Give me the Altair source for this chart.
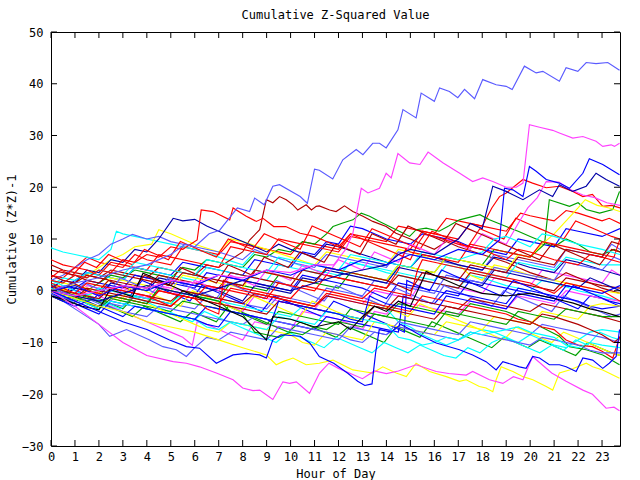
import altair as alt
import pandas as pd

RED = "#ff0000"; GREEN = "#00a000"; BLUE = "#0000ff"; MAG = "#ff40ff"; CYAN = "#00ffff"
DRED = "#b00000"; YEL = "#ffff00"; BLK = "#000000"; SLATE = "#5a5aff"; NAVY = "#0000a8"

TITLE = "Cumulative Z-Squared Value"
X_TITLE = "Hour of Day"
Y_TITLE = "Cumulative (Z*Z)-1"
HOUR_TICKS = list(range(0, 24))
Y_TICKS = [-30, -20, -10, 0, 10, 20, 30, 40, 50]

# (hour, cumulative value) pairs
TOP_SLATE = [(0,0),(1,1.5),(2,2.5),(3,4),(4,5),(5,7),(5.6,9),(6,8.5),(6.6,11),(7.04,11.7),(7.78,16),(8.29,15.3),(8.5,17.9),(8.9,16.6),(9.26,20.2),(9.54,20.5),(10.4,18.2),(10.7,16.9),(11.0,23.5),(11.2,23.3),(11.76,21.6),(12.18,25.3),(12.74,27.3),(13.02,26.3),(13.43,28.5),(13.71,28.5),(13.99,27.6),(14.48,31.1),(14.69,35.0),(15.24,33.4),(15.45,38.2),(16.0,36.6),(16.22,39.2),(16.63,38.5),(16.98,37.3),(17.26,38.9),(17.68,37.1),(18.02,40.8),(18.58,39.8),(19.0,39.5),(19.25,38.9),(19.76,43.4),(20.25,42.1),(20.53,42.4),(21.22,40.5),(21.5,43.1),(21.99,42.4),(22.34,44.1),(22.75,43.9),(23.24,44.1),(23.73,42.6)]
TOP_MAG = [(0,0),(1,-1),(2,0),(3,1),(4,0.5),(5,2),(6,1.5),(7,3),(8,2.5),(9,4),(10,3.5),(11,5),(11.8,5),(12.3,8),(12.6,11.1),(12.95,19.8),(13.23,18.9),(13.71,19.8),(13.99,22.7),(14.2,21.8),(14.48,26.5),(14.97,24.7),(15.4,24.4),(15.74,26.8),(16.37,24.7),(17.06,22.7),(17.6,21.1),(18.02,21.8),(18.44,21.1),(19.0,20.0),(19.42,20.0),(19.7,20.8),(19.97,32.1),(20.39,31.6),(20.94,31.0),(21.22,30.5),(21.78,29.5),(22.2,29.8),(22.75,28.9),(23.03,27.9),(23.38,28.2),(23.52,27.9),(23.73,28.5)]
BLUE_HI = [(0,0),(1,1),(2,-1),(3,1),(4,0),(5,2),(6,1),(7,3),(8,2),(9,4),(10,3),(11,5),(12,4),(13,6),(14,5),(15,7),(16,6),(17,8),(18,7),(18.72,9.8),(18.93,19.8),(19.28,19.5),(19.7,18.2),(19.97,24.0),(20.25,23.1),(20.67,21.5),(21.22,20.8),(21.64,19.8),(22.2,22.7),(22.47,25.5),(23.03,24.4),(23.73,22.4)]
NAVY_HI = [(0,0),(1,-1),(2,-2),(3,-0.5),(4,1),(5,0),(6,-1),(7,0.5),(8,2),(9,1),(10,0),(11,1.5),(12,3),(13,4),(14,5),(14.5,7),(15,8),(16,7),(17,10),(17.5,13),(18,12),(18.44,20.2),(19.0,19.2),(19.7,17.6),(20.39,19.5),(20.94,18.2),(21.22,20.5),(21.78,19.2),(22.34,20.2),(22.75,22.7),(23.17,21.5),(23.73,20.2)]
MAG_LOW = [(0,0),(1,-3),(2,-6.5),(3,-10),(4,-12.5),(5.1,-13.7),(5.65,-14),(6.2,-14.7),(6.9,-15.9),(7.6,-17.2),(8.0,-18.8),(8.43,-19.3),(8.71,-19.2),(9.26,-21.0),(9.68,-17.6),(9.96,-17.9),(10.24,-17.6),(10.79,-19.8),(11.21,-15.9),(11.6,-14),(12,-15),(12.5,-16),(13,-17),(13.5,-15.5),(14,-16),(14.5,-15.5),(15.24,-14.3),(16.08,-15.6),(16.6,-16),(17.33,-16.3),(17.6,-15.6),(18.3,-17.2),(18.86,-17.9),(19.3,-16.6),(19.7,-17.2),(20.1,-12.7),(20.9,-15.9),(21.5,-17.5),(22.2,-19.2),(22.6,-20),(23.17,-22.7),(23.5,-22.5),(23.73,-23.2)]
YEL_LOW = [(0,0),(1,-1.5),(2,-3),(3,-4),(4,-6),(5,-7),(6,-8),(7,-9.5),(8,-11),(8.99,-12.4),(9.4,-14.3),(9.68,-13.7),(10.1,-13.0),(10.65,-14.3),(11.2,-14.0),(11.77,-13.4),(12.6,-15.3),(13.02,-15.6),(13.43,-15.9),(13.85,-14.7),(14.41,-15.9),(14.83,-16.6),(15.24,-14.0),(15.8,-15.6),(16.5,-16.6),(17.05,-17.5),(17.33,-17.2),(17.88,-18.5),(18.16,-18.8),(18.44,-19.5),(18.58,-17.2),(18.79,-14.7),(19.28,-15.6),(19.7,-16.6),(20.11,-17.2),(20.67,-18.5),(20.94,-19.2),(21.22,-15.9),(21.64,-15.3),(22.34,-14.0),(22.61,-14.7),(23.03,-15.3),(23.73,-16.9)]
BLUE_LOW = [(0,0),(1,-2),(2,-4),(3,-6),(4,-7.5),(4.95,-9.5),(5.65,-10.8),(6.2,-11.1),(6.9,-14.0),(7.6,-12.4),(8.15,-12.1),(8.71,-12.4),(8.99,-13.0),(9.26,-9.5),(9.6,-8.5),(10.4,-8.8),(10.8,-10.1),(11.2,-12.7),(11.8,-14),(12.4,-16),(12.8,-17.5),(13.1,-18.3),(13.4,-18.0),(13.55,-12),(13.7,-7.5),(14.2,-8),(14.6,-6.5),(15.0,-7.5),(15.38,-8.5),(16.08,-10.1),(17.05,-11.4),(17.6,-12.4),(18.16,-13.7),(18.58,-15.3),(18.86,-13.7),(19.28,-14.3),(19.55,-14.7),(19.83,-15.0),(20.11,-12.7),(20.39,-13.0),(20.8,-14.3),(21.22,-14.3),(21.5,-14.7),(21.92,-15.6),(22.2,-13.0),(22.61,-13.4),(23.03,-15.0),(23.3,-14.0),(23.59,-12.7),(23.73,-7.5)]
BLACK_1 = [(0,-1),(0.6,-1.8),(1.3,-3),(2.0,-3.7),(2.45,0.2),(2.9,-0.4),(3.4,-1.1),(3.84,3.4),(4.0,3.1),(5,1),(6,-1),(7,-3),(8,-5),(8.99,-9.5),(9.26,-5),(10,-5.5),(11,-7),(12,-6),(12.5,-7.5),(13,-5),(13.5,-3),(14,-4),(14.5,-2),(15,-3),(15.5,2),(15.66,3.7),(16,3),(17,1),(18,-0.5),(19,-1),(20,-0.5),(21,-1.5),(21.8,-2.4),(22.5,-3.5),(23,-4),(23.73,-5)]
RED_A = [(0,2),(0.5,1.5),(1,3),(1.5,2.5),(2,4),(2.5,3.5),(3,6),(3.5,5.5),(4,7),(4.5,6.5),(5,8.5),(5.5,8),(6.1,9.8),(6.27,15.6),(6.76,15.3),(7.46,13.7),(7.6,16),(8.15,14.4),(8.57,13.4),(8.85,14),(9.3,12.4),(9.8,12.4),(10.4,11.1),(11,10.5),(11.5,9.5),(12,8.5),(12.5,11),(13,10),(13.5,9),(14,8),(14.5,7),(15,6),(15.3,9),(15.6,11),(16,10.5),(17,9),(18,8),(18.5,7),(19,6),(19.5,8),(20,7.5),(21,6),(22,5),(22.5,7),(23,6.5),(23.75,5.5)]
DRED_A = [(0,5),(0.5,4),(1,3.5),(2,2.5),(2.5,4),(3,3.5),(4,2.5),(4.5,4.5),(5,4),(6,3),(6.5,5),(7,4.5),(7.5,6),(8,7.5),(8.29,9.8),(8.71,11.8),(8.99,17.6),(9.26,17),(9.54,18.2),(9.82,17.6),(10.1,16.6),(10.3,15.6),(10.65,16.6),(10.87,15.6),(11.07,16.3),(11.2,16.4),(11.63,15.6),(11.9,15.3),(12.25,16.4),(12.6,15.3),(13.02,14.4),(13.43,13.4),(13.99,12.4),(14.4,11.1),(15,10),(15.5,9),(16,8),(16.5,9.5),(17,8.5),(18,7),(19,5.5),(19.5,4.5),(20,3.5),(21,2),(21.5,3.5),(22,2.5),(23,0.5),(23.75,-0.5)]
GREEN_A = [(0,0),(0.5,-1),(1,0.5),(1.5,0),(2,1.5),(2.5,3),(3,2.5),(3.5,4),(4,3.5),(5,2.5),(5.5,4.5),(6,4),(6.5,6),(7,5.5),(8,4.5),(8.5,7),(9,6.5),(9.5,8),(10,7.5),(10.5,9.5),(11,9),(11.5,11),(11.77,12.4),(12.18,13.1),(12.6,13.7),(12.95,15),(13.3,14.4),(13.71,13.4),(14.41,11.8),(14.97,10.5),(15.24,11.8),(15.66,12.1),(16.2,11.5),(16.6,12.5),(17.05,13.7),(17.9,14.7),(18.3,13.7),(19,12.4),(19.5,11.5),(20,10.5),(20.5,9.5),(21,8.5),(21.5,10),(22,9),(22.5,7.5),(23,7),(23.5,8),(23.75,7.5)]
RED_B = [(0,6),(0.5,5),(1,4.5),(1.5,6.5),(2,5.5),(3,4.5),(3.5,7),(4,6),(5,5),(5.5,8.5),(6,8),(7,7),(7.5,9.5),(8,9),(9,8),(10,7),(10.5,9.5),(11,9),(12,8),(12.5,11),(13,10.5),(14,9.5),(14.5,12.5),(15,12),(16,11),(16.5,14),(17,13.5),(18,12.5),(18.4,16),(18.72,18.2),(19,18.9),(19.7,21.5),(20.1,20.8),(20.67,19.9),(21.22,20.2),(21.78,19.2),(22.2,18.2),(22.6,18.6),(23.03,16.3),(23.4,16.5),(23.75,16)]
NAVY_B = [(0,0.5),(0.5,2),(1,1.5),(1.5,4),(2,3.5),(2.5,6),(3,5.5),(3.5,8),(4,7.5),(4.5,10),(5.1,14),(5.5,13.5),(6,13.8),(6.5,12.5),(7,11.5),(7.5,10.5),(8,9.5),(8.5,8.5),(9,7.5),(9.5,9),(10,8),(11,6.5),(11.5,9),(12,8.5),(13,7),(14,5.5),(15,4.5),(15.5,7),(16,6.5),(17,5),(18,4),(18.5,6.5),(19,6),(20,4.5),(21,3.5),(21.5,6),(22,5.5),(23,4),(23.75,3)]
YEL_B = [(0,1),(0.5,0),(1,1.5),(1.5,3),(2,4.5),(2.5,6),(3,7),(3.5,8.5),(4.2,9),(4.5,11.8),(5,11),(5.5,10),(6,9),(7,7.5),(7.5,10),(8,9.5),(9,8),(10,6.5),(11,5),(11.5,7.5),(12,7),(13,6),(14,5),(14.5,8),(15,7.5),(16,6),(17,5),(17.5,3),(18,2),(18.5,5),(19,4.5),(20,3),(21,2),(22,1),(23,0),(23.75,-0.5)]
CYAN_B = [(0,8.3),(0.5,7.5),(1,7),(1.5,6.5),(2,6),(2.5,8),(2.73,11.5),(3,11),(3.5,10.5),(4,10),(5,9),(6,8),(6.5,7.5),(7,6.5),(8,5),(8.5,7.5),(9,7),(10,5.5),(11,4),(12,3),(12.5,5.5),(13,5),(14,3.5),(15,2.5),(16,1.5),(17,0.5),(17.5,3),(18,2.5),(19,1),(20,0),(20.5,2),(21,1.5),(22,0),(23,-1),(23.75,-2)]
SLATE_B = [(0,2),(0.5,3),(1,4.5),(1.5,6),(2,7),(2.5,9),(3,10),(3.4,10.9),(4,10),(4.5,10.5),(5,9.5),(6,8.5),(7,7.5),(8,6),(8.5,8),(9,7),(10,5.5),(11,4.5),(11.5,7),(12,6.5),(13,5.5),(14,4.5),(14.5,7.5),(15,7),(16,6),(17,5),(18,4),(18.5,7),(19,6.5),(20,5.5),(21,4.5),(21.5,8),(22,7.5),(23,6.5),(23.4,9),(23.75,8)]
RED_C = [(0,3),(0.5,2.5),(1,4.5),(1.5,4),(2,3),(2.5,5.5),(3,5),(4,4),(4.5,7),(5,6.5),(6,5.5),(7,4.5),(7.5,8.5),(8,8),(9,7),(9.5,10),(10,9.5),(11,8.5),(12,7.5),(12.5,10.5),(13,10),(14,9),(15,8),(15.5,11.5),(16,11),(17,10),(17.5,13),(18,12.5),(19,11.5),(19.6,15),(20,14.5),(21,13.5),(21.5,15.5),(22,15),(23,13.5),(23.3,14),(23.75,13)]
GREEN_B = [(0,1),(0.5,0),(1,-1),(1.5,-2),(2,-1.5),(2.5,-2.5),(3,-3.5),(3.5,-1),(4,-1.5),(5,-2.5),(5.5,0),(6,-0.5),(7,-1.5),(7.5,1.5),(8,1),(9,0),(9.5,3),(10,2.5),(11,1.5),(12,0.5),(12.5,3.5),(13,3),(14,2),(14.5,5),(15,4.5),(16,3.5),(16.5,6.5),(17,6),(18,5),(18.5,8),(19,7.5),(20,6.5),(20.6,9),(20.8,17.6),(21.64,16.3),(22.0,17),(22.34,15.7),(22.9,15),(23.45,15.7),(23.73,19.2)]
RED_D = [(0,-1),(0.5,-2),(1,-1),(1.5,-2.5),(2,-3),(2.5,-1),(3,-1.5),(4,-2.5),(4.5,0),(5,-0.5),(6,-1.5),(6.5,1),(7,0.5),(8,-0.5),(9,-1.5),(9.5,1.5),(10,1),(11,0),(11.5,3),(12,2.5),(13,1.5),(14,0.5),(14.5,4),(14.8,8),(15,7.5),(16,6.5),(17,5.5),(17.5,9),(18,8.5),(19,7.5),(20,6.5),(20.5,9.5),(21,9),(22,8),(23,7),(23.5,6.5),(23.75,10)]
SLATE_C = [(0,0),(0.5,-1),(1,-2),(1.5,-1),(2,-2),(3,-3),(3.5,-1),(4,-1.5),(5,-2.5),(6,-3.5),(6.5,-1),(7,-1.5),(8,-2.5),(9,-3.5),(9.5,-1),(10,-1.5),(11,-2.5),(11.5,0.5),(12,0),(13,-1),(13.5,2),(14,1.5),(15,0.5),(16,-0.5),(16.5,3),(17,2.5),(18,1.5),(18.5,4.5),(19,4),(20,3),(21,2),(21.5,5.5),(22,5),(23,4),(23.5,6.5),(23.75,6)]
CYAN_C = [(0,1),(0.5,2.5),(1,2),(1.5,3.5),(2,3),(3,2),(3.5,4.5),(4,4),(5,3),(6,2),(6.5,4.5),(7,4),(8,3),(9,2),(9.5,5),(10,4.5),(11,3.5),(12,2.5),(12.5,5.5),(13,5),(14,4),(15,3),(16,2),(16.5,5),(17,4.5),(18,3.5),(19,2.5),(19.5,5.5),(20,5),(21,4),(21.5,6.5),(22,6),(23,5),(23.75,5)]
DRED_B = [(0,3),(0.5,2),(1,1.5),(1.5,3),(2,2.5),(3,1.5),(4,0.5),(4.5,3),(5,2.5),(6,1.5),(7,0.5),(7.5,3.5),(8,3),(9,2),(10,1),(10.5,4),(11,3.5),(12,2.5),(13,1.5),(14,0.5),(14.5,3),(15,2.5),(16,1.5),(17,0.5),(17.5,3.5),(18,3),(19,2),(20,1),(21,0),(21.5,2.5),(22,2),(23,1),(23.75,0.5)]
YEL_C = [(0,0),(0.5,1.5),(1,1),(2,0),(2.5,2.5),(3,2),(4,1),(5,0),(5.5,3),(6,2.5),(7,1.5),(8,0.5),(8.5,4),(9,3.5),(10,2.5),(11,1.5),(11.5,4.5),(12,4),(13,3),(14,2),(14.5,5),(15,4.5),(16,3.5),(16.5,6.5),(17,6),(18,5),(19,4),(19.5,7),(20,6.5),(20.5,9),(21,11),(21.5,13.5),(22,16),(22.3,17.6),(22.8,16.5),(23.3,16),(23.75,15.3)]
MAG_B = [(0,0.5),(0.5,0),(1,-1),(1.5,1),(2,0.5),(3,-0.5),(4,-1.5),(4.5,1),(5,0.5),(6,-0.5),(7,-1.5),(7.5,-3),(8,-4),(8.5,-1),(9,-1.5),(10,-2.5),(11,-3.5),(11.5,-1),(12,-1.5),(13,-2.5),(13.5,0),(14,-0.5),(15,-1.5),(15.5,2),(16,1.5),(17,0.5),(18,-0.5),(18.5,2.5),(19,2),(20,1),(20.5,4),(21,3.5),(22,2.5),(23,1.5),(23.4,4),(23.75,3)]
BLUE_B = [(0,0),(0.5,1),(1,0.5),(1.5,2),(2,1.5),(3,0.5),(3.5,3),(4,2.5),(5,1.5),(6,0.5),(6.5,3.5),(7,3),(8,2),(9,1),(10,0),(10.5,3),(11,2.5),(12,1.5),(13,0.5),(13.5,-0.5),(14,-1.5),(14.5,1.5),(15,1),(16,0),(17,-1),(17.5,2),(18,1.5),(19,0.5),(20,-0.5),(21,-1.5),(21.5,-2.5),(22,-3.5),(22.5,-1),(23,-1.5),(23.75,-3)]
RED_E = [(0,0.5),(0.5,-0.5),(1,-1.5),(1.5,0),(2,-0.5),(3,-1.5),(4,-2.5),(4.5,0),(5,-0.5),(6,-1.5),(7,-2.5),(7.5,0.5),(8,0),(9,-1),(10,-2),(11,-3),(11.5,-0.5),(12,-1),(13,-2),(14,-3),(15,-4),(15.5,-1),(16,-1.5),(17,-2.5),(18,-3.5),(19,-4.5),(19.5,-5.5),(20,-6),(20.5,-7),(21,-7.5),(21.5,-9.5),(22,-10.5),(22.6,-10.8),(23,-11.7),(23.45,-13),(23.75,-8.8)]
GREEN_C = [(0,-0.5),(0.5,-1.5),(1,-1),(1.5,-2.5),(2,-3.5),(2.5,-1.5),(3,-2),(4,-3),(5,-4),(5.5,-2),(6,-2.5),(7,-3.5),(8,-4.5),(8.5,-5.5),(9,-6.5),(9.5,-4),(10,-4.5),(11,-5.5),(12,-6.5),(12.5,-3.5),(13,-4),(14,-5),(14.5,-2.5),(15,-3),(16,-4),(17,-5),(17.5,-2.5),(18,-3),(19,-4),(19.5,-5),(20.1,-6.2),(20.67,-7.5),(21.22,-8.8),(21.64,-10.8),(22.34,-11.4),(23.03,-12.4),(23.73,-14.3)]
CYAN_D = [(0,2),(0.5,1),(1,0),(1.5,-1),(2,0.5),(3,-0.5),(4,-1.5),(5,-2.5),(5.5,-0.5),(6,-1),(7,-2),(8,-3),(9,-4),(10,-5),(10.5,-3),(11,-3.5),(12,-4.5),(13,-5.5),(13.5,-3),(14,-3.5),(14.5,-6),(15,-7),(15.5,-8.5),(16,-9.5),(16.5,-10.5),(17,-9.5),(17.5,-8.5),(18,-7.5),(18.5,-8),(19,-9),(19.5,-10),(20,-8.5),(20.5,-9.5),(21,-10.5),(21.5,-11),(22,-9.5),(22.5,-8),(23,-7.5),(23.75,-8)]
DRED_C = [(0,1),(0.5,0),(1,-0.5),(2,-1.5),(2.5,0.5),(3,0),(4,-1),(5,-2),(5.5,0),(6,-0.5),(7,-1.5),(8,-2.5),(8.5,-0.5),(9,-1),(10,-2),(11,-3),(11.5,-1),(12,-1.5),(13,-2.5),(14,-3.5),(14.5,-1),(15,-1.5),(16,-2.5),(17,-3.5),(17.5,-1.5),(18,-2),(19,-3),(20,-4),(20.5,-2.5),(21,-3),(22,-4),(23,-5),(23.75,-6)]
BLUE_C = [(0,-0.5),(0.5,-1.5),(1,-2.5),(1.5,-3.5),(2,-4.5),(2.5,-2),(3,-2.5),(4,-3.5),(5,-4.5),(6,-5.5),(6.5,-3),(7,-3.5),(8,-4.5),(9,-5.5),(10,-6.5),(11,-7.5),(11.5,-5),(12,-5.5),(13,-6.5),(14,-7.5),(14.5,-8),(14.7,-1),(15,-1.5),(16,-2.5),(16.5,0),(17,-0.5),(18,-1.5),(19,-2.5),(19.5,0.5),(20,0),(21,-1),(22,-2),(22.5,-3),(23,-3.5),(23.75,-3)]
SLATE_D = [(0,-0.5),(0.5,-2),(1,-3.5),(1.5,-5),(2,-6.5),(2.45,-8.8),(3.15,-7.5),(4.12,-9.5),(4.67,-10.8),(5.23,-11.4),(5.65,-12.7),(6,-11),(6.5,-9),(7,-9.5),(7.5,-8),(8,-8.5),(9,-9.5),(9.5,-7),(10,-7.5),(11,-8.5),(12,-9.5),(12.5,-7),(13,-7.5),(14,-8.5),(14.5,-6),(15,-6.5),(16,-7.5),(17,-8.5),(17.5,-6),(18,-6.5),(19,-7.5),(20,-8.5),(20.5,-6.5),(21,-7),(22,-8),(23,-9),(23.75,-10)]
YEL_D = [(0,0),(0.5,-0.5),(1,-1.5),(1.5,0),(2,-0.5),(3,-1.5),(4,-2.5),(4.5,-3.5),(5,-4.5),(5.5,-5.5),(6,-6.5),(6.5,-7.5),(7,-8),(7.5,-6),(8,-6.5),(9,-7.5),(10,-8.5),(10.5,-10),(11,-10.5),(11.5,-8),(12,-8.5),(13,-9.5),(13.5,-6),(14,-6.5),(15,-7.5),(16,-8.5),(16.5,-6),(17,-6.5),(18,-7.5),(18.5,-5),(19,-5.5),(20,-6.5),(20.5,-4),(21,-4.5),(22,-5.5),(22.5,-3),(23,-2.5),(23.75,-3)]
MAG_C = [(0,0),(0.5,1),(1,0),(1.5,-1),(2,-2),(2.5,-3),(3,-4),(3.5,-5),(4,-6),(4.5,-7),(5,-8),(5.5,-9),(5.9,-10.5),(6.1,-6),(6.5,-6.5),(7,-7.5),(7.5,-8.5),(8,-9.5),(8.5,-6),(9,-6.5),(10,-7.5),(10.5,-4),(11,-4.5),(12,-5.5),(12.5,-6.5),(13,-7.5),(13.5,-4),(14,-4.5),(14.5,-2),(15,-2.5),(16,-3.5),(17,-4.5),(17.5,-2),(18,-2.5),(19,-3.5),(19.5,-1),(20,-1.5),(21,-2.5),(21.5,0),(22,-0.5),(23,-1.5),(23.75,-2)]
DRED_D = [(0,0.5),(0.5,-0.5),(1,-1.5),(1.5,0.5),(2,0),(3,-1),(4,-2),(5,-3),(5.5,-1),(6,-1.5),(7,-2.5),(8,-3.5),(9,-4.5),(9.5,-2),(10,-2.5),(11,-3.5),(12,-4.5),(13,-5.5),(13.5,-3),(14,-3.5),(15,-4.5),(16,-5.5),(16.5,-3),(17,-3.5),(18,-4.5),(19,-5.5),(20,-6.5),(20.5,-4.5),(21,-5),(22,-6.5),(22.5,-7.5),(23,-8.5),(23.5,-10),(23.75,-9)]
CYAN_E = [(0,2),(0.5,1.5),(1,3),(1.5,2.5),(2,4),(3,3),(3.5,5.5),(4,5),(5,4),(6,3),(6.5,6),(7,5.5),(8,4.5),(9,3.5),(9.5,6.5),(10,6),(11,5),(12,4),(12.5,7),(13,6.5),(14,5.5),(15,4.5),(15.5,7.5),(16,7),(17,6),(18,7.5),(18.5,10),(19,10.5),(19.5,9.5),(20,8.5),(20.5,11),(21,10.5),(22,9),(23,8),(23.75,7)]
NAVY_C = [(0,0),(0.5,-1),(1,0.5),(1.5,0),(2,-1),(2.5,1.5),(3,1),(4,0),(4.5,2.5),(5,2),(6,1),(7,0),(7.5,-1),(8,-2),(8.5,1),(9,0.5),(10,-0.5),(10.5,2.5),(11,2),(11.5,4),(12,3.5),(13,2.5),(14,1.5),(14.5,4.5),(15,4),(16,3),(17,2),(18,1),(18.5,4),(19,3.5),(20,2.5),(21,1.5),(22,0.5),(22.5,2.5),(23,1.5),(23.75,0)]
BLUE_D = [(0,1),(0.5,0.5),(1,2),(1.5,3.5),(2,3),(3,2),(3.5,4.5),(4,4),(5,3),(5.5,5.5),(6,5),(7,4),(8,3),(8.5,6),(9,5.5),(10,4.5),(10.5,7.5),(11,7),(11.5,9.5),(12,9),(12.5,12.5),(13,12),(13.5,11),(14,10),(15,9),(15.5,11),(16,10.5),(17,9.5),(17.5,8.5),(18,8),(19,7),(19.5,10),(20,9.5),(21,8.5),(21.5,12),(22,11.5),(23,10.5),(23.75,12)]
GREEN_D = [(0,-1),(0.5,-2),(1,-1.5),(2,-3),(2.5,-1),(3,-1.5),(4,-2.5),(4.5,0.5),(5,0),(6,-1),(7,-2),(7.5,-4),(8,-4.5),(8.5,-8),(9,-8.5),(9.5,-9),(10,-8),(10.5,-8.5),(11,-7),(11.5,-7.5),(12,-6),(13,-7),(13.5,-4.5),(14,-5),(15,-6),(16,-7),(16.5,-4),(17,-4.5),(18,-5.5),(19,-6.5),(19.5,-4),(20,-4.5),(21,-5.5),(21.5,-3.5),(22,-4),(23,-5),(23.75,-5)]
RED_F = [(0,1.5),(0.5,0.5),(1,-0.5),(1.5,1.5),(2,1),(3,0),(4,-1),(4.5,-2),(5,-3),(5.5,-1),(6,-1.5),(6.5,-3.5),(7,-4.5),(7.2,2),(7.5,1.5),(8,0.5),(9,-0.5),(10,-1.5),(10.5,1),(11,0.5),(12,-0.5),(13,-1.5),(13.5,0.5),(14,0),(15,-1),(15.3,4),(15.5,6),(16,5.5),(17,4.5),(18,3.5),(19,2.5),(20,1.5),(20.5,0.5),(21,-0.5),(21.5,1.5),(22,1),(23,0),(23.75,-2)]
SLATE_E = [(0,0),(0.5,-1),(1,-2.5),(1.5,-1.5),(2,-2.5),(3,-4),(4,-5),(4.5,-3),(5,-3.5),(6,-4.5),(7,-5.5),(8,-6.5),(8.5,-5),(9,-5.5),(10,-6.5),(11,-7.5),(12,-8.5),(12.5,-9.5),(13,-10),(13.5,-8),(14,-8.5),(14.5,-7),(15,-7.5),(16,-8.5),(17,-9.5),(17.5,-8),(18,-8.5),(19,-9.5),(20,-10.5),(20.5,-9),(21,-9.5),(22,-10.5),(22.5,-11.5),(23,-12),(23.75,-12)]
CYAN_F = [(0,0.5),(0.5,-0.5),(1,-1.5),(1.5,-2.5),(2,-3.5),(2.5,-2),(3,-2.5),(4,-3.5),(5,-4.5),(6,-5.5),(6.5,-7),(7,-7.5),(7.5,-6),(8,-6.5),(9,-7.5),(9.5,-5),(10,-5.5),(11,-6.5),(11.5,-4),(12,-4.5),(13,-5.5),(14,-6.5),(14.5,-9),(15,-9.5),(15.5,-10.5),(16,-10),(16.5,-9),(17,-9.5),(17.5,-8),(18,-8.5),(19,-7.5),(19.5,-7),(20,-8),(21,-9),(21.5,-10.5),(22,-11),(22.5,-10),(23,-10.5),(23.75,-11)]
DRED_E = [(0,4),(0.5,3.5),(1,3),(1.5,2),(2,1.5),(2.5,3.5),(3,3),(4,2),(5,1),(5.5,3.5),(6,3),(7,2),(8,1),(8.5,4),(9,3.5),(10,2.5),(11,1.5),(11.5,4.5),(12,4),(13,3),(14,2),(14.5,1),(15,0),(15.5,3.5),(16,3),(17,2),(17.5,5),(18,4.5),(19,3.5),(19.5,6.5),(20,6),(21,5),(21.5,8),(22,7.5),(23,6.5),(23.4,9.5),(23.75,9)]
BLUE_E = [(0,-1),(0.5,-2),(1,-3),(1.5,-2),(2,-3),(2.5,-4),(3,-5),(3.5,-3),(4,-3.5),(5,-4.5),(6,-5.5),(6.5,-6.5),(7,-7),(7.5,-4),(8,-4.5),(9,-5.5),(9.2,-6),(9.5,-2),(10,-2.5),(11,-3.5),(12,-4.5),(12.5,-5.5),(13,-6),(13.3,-1),(13.5,-1.5),(14,-2.5),(15,-3.5),(16,-4.5),(16.5,-1),(17,-1.5),(18,-2.5),(19,-3.5),(19.5,-0.5),(20,-1),(21,-2),(21.5,1),(22,0.5),(23,-0.5),(23.75,1)]
BLUE_F = [(0,-0.5),(0.3,-1.5),(0.8,0.5),(1.3,-0.5),(1.8,-1.5),(2.3,1),(2.8,0),(3.3,-1),(3.8,2),(4.3,1),(4.8,0),(5.3,-1),(5.8,-2),(6.3,1),(6.8,0),(7.3,-1),(7.8,-2),(8.3,-3),(8.8,-4),(9.3,-1),(9.8,-2),(10.3,-3),(10.8,-4),(11.3,-5),(11.8,-2),(12.3,-3),(12.8,-4),(13.3,-5),(13.8,-6),(14.3,-7),(14.75,-8),(14.85,2),(15.3,1),(15.8,0),(16.3,4),(16.8,3),(17.3,2),(17.8,1),(18.3,0),(18.8,-1),(19.3,2),(19.8,1),(20.3,0),(20.8,-1),(21.3,-2),(21.8,1),(22.3,0),(22.8,-1),(23.3,-2),(23.75,-2.5)]
RED_G = [(0,2.5),(0.4,4),(0.9,3),(1.4,5.5),(1.9,4.5),(2.4,7),(2.9,6),(3.4,5),(3.9,8),(4.4,7),(4.9,6),(5.4,9.5),(5.9,8.5),(6.4,7.5),(6.9,6.5),(7.4,10),(7.9,9),(8.4,8),(8.9,11),(9.4,10),(9.9,9),(10.4,8),(10.9,12.5),(11.4,11.5),(11.9,10.5),(12.4,9.5),(12.9,8.5),(13.4,12),(13.9,11),(14.4,10),(14.9,9),(15.4,8),(15.9,11.5),(16.4,10.5),(16.9,9.5),(17.4,8.5),(17.9,12),(18.4,11),(18.9,10),(19.4,14),(19.9,13),(20.4,12),(20.9,11),(21.4,10),(21.9,13.5),(22.4,12.5),(22.9,11.5),(23.4,10.5),(23.75,10)]
CYAN_G = [(0,0),(0.4,-1),(0.9,-2),(1.4,-0.5),(1.9,-1.5),(2.4,-2.5),(2.9,-3.5),(3.4,-1),(3.9,-2),(4.4,-3),(4.9,-4),(5.4,-5),(5.9,-6),(6.4,-4),(6.9,-5),(7.4,-6),(7.9,-7),(8.4,-8),(8.9,-9),(9.4,-10),(9.9,-8),(10.4,-9),(10.9,-10),(11.4,-11),(11.9,-9),(12.4,-10),(12.9,-11),(13.4,-12),(13.9,-10),(14.4,-11),(14.9,-12),(15.4,-10.5),(15.9,-11.5),(16.4,-12.5),(16.9,-13),(17.4,-11),(17.9,-12),(18.4,-10),(18.9,-9),(19.4,-10),(19.9,-11),(20.4,-12),(20.9,-10.5),(21.4,-11.5),(21.9,-9.5),(22.4,-10.5),(22.9,-8),(23.4,-9),(23.75,-9.5)]
DRED_F = [(0,1),(0.4,0),(0.9,1.5),(1.4,0.5),(1.9,-0.5),(2.4,2),(2.9,1),(3.4,0),(3.9,3),(4.4,2),(4.9,1),(5.4,4.5),(5.9,3.5),(6.4,2.5),(6.9,1.5),(7.4,5),(7.9,4),(8.4,3),(8.9,6.5),(9.4,5.5),(9.9,4.5),(10.4,7.5),(10.9,6.5),(11.4,5.5),(11.9,9),(12.4,8),(12.9,7),(13.4,11),(13.9,10),(14.4,9),(14.9,12.5),(15.4,11.5),(15.9,10.5),(16.4,9.5),(16.9,13),(17.4,12),(17.9,11),(18.4,10),(18.9,9),(19.4,8),(19.9,7),(20.4,6),(20.9,9),(21.4,8),(21.9,7),(22.4,6),(22.9,5),(23.4,8),(23.75,7.5)]
GREEN_E = [(0,-0.5),(0.4,-1.5),(0.9,-2.5),(1.4,-1),(1.9,-2),(2.4,-3),(2.9,-4),(3.4,-5),(3.9,-3),(4.4,-4),(4.9,-5),(5.4,-6),(5.9,-4),(6.4,-5),(6.9,-6),(7.4,-3),(7.9,-4),(8.4,-5),(8.9,-6),(9.4,-7),(9.9,-8),(10.4,-6),(10.9,-7),(11.4,-8),(11.9,-9),(12.4,-7),(12.9,-8),(13.4,-9),(13.9,-10),(14.4,-7),(14.9,-8),(15.4,-9),(15.9,-6),(16.4,-7),(16.9,-8),(17.4,-9),(17.9,-10),(18.4,-11),(18.9,-9),(19.4,-10),(19.9,-11),(20.4,-9.5),(20.9,-10.5),(21.4,-11.5),(21.9,-12.5),(22.4,-10),(22.9,-11),(23.4,-12),(23.75,-12.5)]
YEL_E = [(0,-0.5),(0.4,0.5),(0.9,-0.5),(1.4,-1.5),(1.9,0),(2.4,-1),(2.9,-2),(3.4,1),(3.9,0),(4.4,-1),(4.9,-2),(5.4,-3),(5.9,0),(6.4,-1),(6.9,-2),(7.4,-3),(7.9,-4),(8.4,-1),(8.9,-2),(9.4,-3),(9.9,-4),(10.4,-5),(10.9,-2),(11.4,-3),(11.9,-4),(12.4,-5),(12.9,-6),(13.4,-2),(13.9,-3),(14.4,-4),(14.9,-5),(15.4,-2.5),(15.9,-3.5),(16.4,-4.5),(16.9,-5.5),(17.4,-6.5),(17.9,-7.5),(18.4,-8.5),(18.9,-9.5),(19.4,-7),(19.9,-8),(20.4,-9),(20.9,-10),(21.4,-8),(21.9,-9),(22.4,-10),(22.9,-11),(23.4,-12),(23.75,-12.5)]
MAG_D = [(0,0),(0.5,-1),(1,-2),(1.5,0),(2,-1),(2.5,-2),(3,0.5),(3.5,-0.5),(4,-1.5),(4.5,1),(5,0),(5.5,-1),(6,2),(6.5,1),(7,0),(7.5,3),(8,2),(8.5,1),(9,4),(9.5,3),(10,2),(10.5,5),(11,4),(11.5,3),(12,6),(12.5,5),(13,4),(13.5,7.5),(14,6.5),(14.5,5.5),(15,9),(15.5,8),(16,7),(16.5,10),(17,9),(17.5,8),(18,11),(18.5,10),(19,9),(19.5,13),(19.9,16),(20.3,18),(20.67,21.1),(21.2,21),(21.7,19.5),(22.2,18.5),(22.7,18),(23.2,17),(23.75,16.5)]
SLATE_F = [(0,1),(0.4,0),(0.9,-1),(1.4,1.5),(1.9,0.5),(2.4,-0.5),(2.9,2.5),(3.4,1.5),(3.9,0.5),(4.4,-0.5),(4.9,2.5),(5.4,1.5),(5.9,0.5),(6.4,-0.5),(6.9,-1.5),(7.4,1.5),(7.9,0.5),(8.4,-0.5),(8.9,-1.5),(9.4,2),(9.9,1),(10.4,0),(10.9,-1),(11.4,-2),(11.9,1),(12.4,0),(12.9,-1),(13.4,-2),(13.9,-3),(14.4,0.5),(14.9,-0.5),(15.4,-1.5),(15.9,-2.5),(16.4,1),(16.9,0),(17.4,-1),(17.9,-2),(18.4,-3),(18.9,0),(19.4,-1),(19.9,-2),(20.4,-3),(20.9,-4),(21.4,-1),(21.9,-2),(22.4,-3),(22.9,-4),(23.4,-5),(23.75,-4.5)]

SERIES = [
    (RED_B, RED), (GREEN_A, GREEN), (BLUE_D, BLUE), (MAG_B, MAG), (CYAN_B, CYAN), (DRED_A, DRED),
    (YEL_B, YEL), (SLATE_B, SLATE), (NAVY_B, NAVY), (RED_C, RED), (GREEN_B, GREEN), (BLUE_B, BLUE),
    (MAG_C, MAG), (CYAN_C, CYAN), (DRED_B, DRED), (YEL_C, YEL), (SLATE_C, SLATE), (NAVY_C, NAVY),
    (RED_G, RED), (GREEN_E, GREEN), (BLUE_F, BLUE), (MAG_D, MAG), (CYAN_G, CYAN), (DRED_F, DRED),
    (YEL_E, YEL), (SLATE_F, SLATE),
    (RED_D, RED), (GREEN_C, GREEN), (BLUE_C, BLUE), (CYAN_D, CYAN), (DRED_C, DRED), (YEL_D, YEL),
    (SLATE_D, SLATE), (RED_E, RED), (GREEN_D, GREEN), (CYAN_E, CYAN), (DRED_D, DRED), (SLATE_E, SLATE),
    (RED_F, RED), (CYAN_F, CYAN), (DRED_E, DRED), (BLUE_E, BLUE), (BLACK_1, BLK), (RED_A, RED),
    (YEL_LOW, YEL), (MAG_LOW, MAG), (BLUE_LOW, BLUE), (NAVY_HI, NAVY), (BLUE_HI, BLUE),
    (TOP_MAG, MAG), (TOP_SLATE, SLATE),
]

rows = []
names, colors = [], []
for k, (pts, col) in enumerate(SERIES):
    name = f"s{k:02d}"
    names.append(name)
    colors.append(col)
    for h, v in pts:
        rows.append({"s": name, "h": h, "v": v})
df = pd.DataFrame(rows)

FONT = "DejaVu Sans Mono"
W, H = 569, 414

xs = alt.Scale(domain=[0, 23.75], nice=False, zero=False)
ys = alt.Scale(domain=[-30, 50], nice=False, zero=False)
xaxis = alt.Axis(values=HOUR_TICKS, ticks=False, tickSize=0, domain=False, grid=False, labelPadding=5,
                 labelFont=FONT, labelFontSize=12, labelColor="black", labelFlush=False,
                 title=X_TITLE, titleFont=FONT, titleFontSize=12, titleFontWeight="normal",
                 titleColor="black", titleX=284.5, titleY=27, titleBaseline="middle", titleAlign="center")
yaxis = alt.Axis(values=Y_TICKS, ticks=False, tickSize=0, domain=False, grid=False, labelPadding=8,
                 labelFont=FONT, labelFontSize=12, labelColor="black", labelFlush=False,
                 title=Y_TITLE, titleFont=FONT, titleFontSize=12, titleFontWeight="normal",
                 titleColor="black", titleX=-40, titleY=207, titleBaseline="middle", titleAlign="center",
                 titleAngle=270)

lines = alt.Chart(df).mark_line(strokeWidth=1.15, clip=True).encode(
    x=alt.X("h:Q", scale=xs, axis=xaxis),
    y=alt.Y("v:Q", scale=ys, axis=yaxis),
    color=alt.Color("s:N", scale=alt.Scale(domain=names, range=colors), legend=None),
    detail="s:N",
)

xt = pd.DataFrame({"h": HOUR_TICKS})
yt = pd.DataFrame({"v": Y_TICKS})
tick_style = dict(color="black", strokeWidth=1)
xb = alt.Chart(xt).mark_rule(**tick_style).encode(x=alt.X("h:Q", scale=xs, axis=xaxis), y=alt.value(H), y2=alt.value(H - 6))
xtp = alt.Chart(xt).mark_rule(**tick_style).encode(x=alt.X("h:Q", scale=xs, axis=xaxis), y=alt.value(0), y2=alt.value(6))
yl = alt.Chart(yt).mark_rule(**tick_style).encode(y=alt.Y("v:Q", scale=ys, axis=yaxis), x=alt.value(0), x2=alt.value(6))
yr = alt.Chart(yt).mark_rule(**tick_style).encode(y=alt.Y("v:Q", scale=ys, axis=yaxis), x=alt.value(W), x2=alt.value(W - 6))

title_df = pd.DataFrame({"t": [TITLE]})
title = alt.Chart(title_df).mark_text(font=FONT, fontSize=12, color="black", align="center", baseline="middle").encode(
    x=alt.value(284.5), y=alt.value(-17), text="t:N")

chart = alt.layer(lines, xb, xtp, yl, yr, title).properties(
    width=W, height=H,
    autosize=alt.AutoSizeParams(type="none"),
    padding={"left": 51, "top": 32, "right": 20, "bottom": 34},
    background="white",
).configure_view(stroke="black", strokeWidth=1)

chart.save("out.html", embed_options={"renderer": "svg", "actions": False})
